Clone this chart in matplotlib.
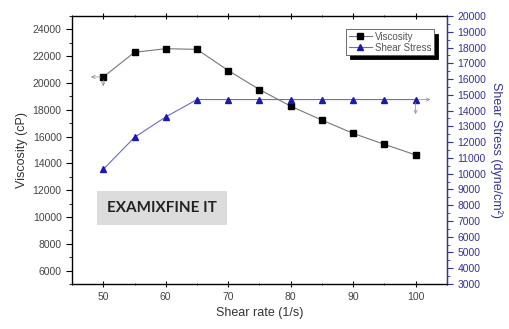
import matplotlib
matplotlib.use("Agg")
import matplotlib.pyplot as plt
from matplotlib.ticker import MultipleLocator

plt.rcParams['font.family'] = ['Liberation Sans', 'DejaVu Sans']

shear_rate = [50, 55, 60, 65, 70, 75, 80, 85, 90, 95, 100]
viscosity = [20450, 22290, 22560, 22510, 20930, 19510, 18270, 17230, 16240, 15420, 14630]
shear_stress = [10270, 12300, 13600, 14700, 14700, 14700, 14700, 14700, 14700, 14700, 14700]

navy = '#33339a'

fig = plt.figure(figsize=(5.09, 3.29), dpi=100)
ax = fig.add_axes([0.1415, 0.1368, 0.7365, 0.8146])
ax2 = ax.twinx()

l1, = ax.plot(shear_rate, viscosity, color='#777777', lw=0.8, marker='s',
              ms=4.5, mfc='black', mec='black', label='Viscosity')
l2, = ax2.plot(shear_rate, shear_stress, color='#6a6ad0', lw=0.8, marker='^',
               ms=4.5, mfc='#1a1ab0', mec='#1a1ab0', label='Shear Stress')

ax.set_xlim(45, 105)
ax.set_ylim(5000, 25000)
ax2.set_ylim(3000, 20000)

ax.xaxis.set_major_locator(MultipleLocator(10))
ax.xaxis.set_minor_locator(MultipleLocator(5))
ax.yaxis.set_major_locator(MultipleLocator(2000))
ax.yaxis.set_minor_locator(MultipleLocator(1000))
ax2.yaxis.set_major_locator(MultipleLocator(1000))
ax2.yaxis.set_minor_locator(MultipleLocator(500))

ax.set_yticks(range(6000, 24001, 2000))
ax.tick_params(axis='both', which='major', labelsize=7.5, labelcolor='#444444',
               length=4, width=0.8, direction='out', top=True)
ax.tick_params(axis='both', which='minor', length=2, width=0.6, top=True)
ax.tick_params(axis='x', which='both', top=True, direction='inout')
ax2.tick_params(axis='y', which='major', labelsize=7.5, colors=navy, length=4, width=0.8)
ax2.tick_params(axis='y', which='minor', colors=navy, length=2, width=0.6)
ax2.spines['right'].set_color(navy)
ax2.spines['right'].set_linewidth(1.0)
for s in ['left', 'bottom', 'top']:
    ax.spines[s].set_color('#444444')
    ax.spines[s].set_linewidth(1.0)

ax.set_xlabel('Shear rate (1/s)', fontsize=9, color='#333333', labelpad=4)
ax.set_ylabel('Viscosity (cP)', fontsize=9, color='#333333', labelpad=3)
ax2.set_ylabel('Shear Stress (dyne/cm²)', fontsize=9, color=navy,
               rotation=270, labelpad=12)

# Origin-style data reader arrows
arrow_kw = dict(arrowstyle='->', color='#888888', lw=0.5, mutation_scale=6)
ax.annotate('', xy=(47.6, viscosity[0]), xytext=(shear_rate[0], viscosity[0]),
            arrowprops=arrow_kw)
ax.annotate('', xy=(shear_rate[0], viscosity[0] - 900), xytext=(shear_rate[0], viscosity[0]),
            arrowprops=arrow_kw)
ax2.annotate('', xy=(102.8, shear_stress[-1]), xytext=(shear_rate[-1], shear_stress[-1]),
             arrowprops=arrow_kw)
ax2.annotate('', xy=(shear_rate[-1], shear_stress[-1] - 1100), xytext=(shear_rate[-1], shear_stress[-1]),
             arrowprops=arrow_kw)

ax.text(0.24, 0.284, 'EXAMIXFINE IT', transform=ax.transAxes, fontsize=11,
        fontweight='bold', family=['Lato', 'DejaVu Sans'], color='#222222',
        ha='center', va='center',
        bbox=dict(boxstyle='square,pad=0.65', fc='#dcdcdc', ec='none'))

leg = ax.legend(handles=[l1, l2], loc='upper right', bbox_to_anchor=(0.965, 0.95),
                fontsize=7, frameon=True, fancybox=False,
                shadow={'color': 'black', 'alpha': 1.0, 'ox': 3, 'oy': -3},
                handlelength=2.4, borderpad=0.25, labelspacing=0.1,
                handletextpad=0.3, borderaxespad=0)
leg.get_frame().set_edgecolor('#555555')
leg.get_frame().set_linewidth(0.6)
leg.get_frame().set_alpha(1.0)
for t in leg.get_texts():
    t.set_color('#555555')

fig.savefig('out.png', dpi=100)
